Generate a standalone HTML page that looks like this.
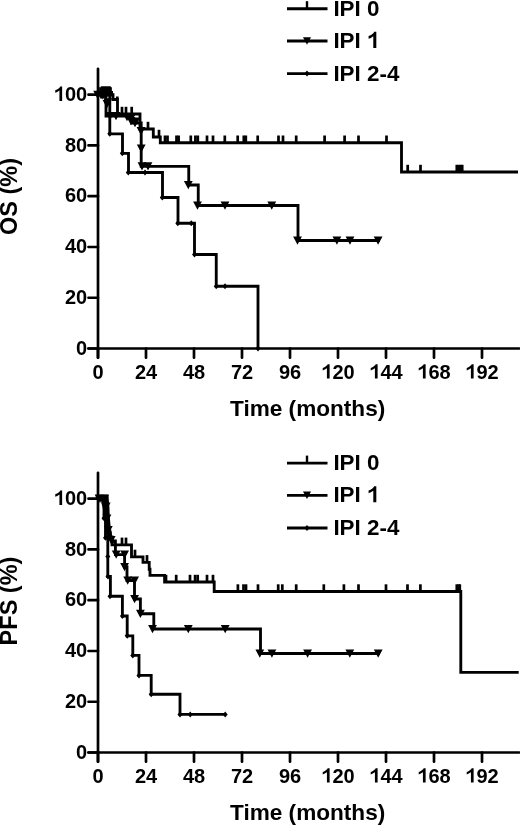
<!DOCTYPE html>
<html><head><meta charset="utf-8"><title>Kaplan-Meier curves by IPI</title>
<style>
html,body{margin:0;padding:0;background:#fff;width:520px;height:826px;overflow:hidden}
svg{display:block}
text{font-family:"Liberation Sans", sans-serif;font-weight:bold;fill:#000}
.tl{font-size:20px}
.tt{font-size:22.6px}
.lg{font-size:22.4px}
.yt{font-size:23.5px}
</style></head><body>
<svg width="520" height="826" viewBox="0 0 520 826">
<defs><filter id="bl" x="-5%" y="-5%" width="110%" height="110%"><feGaussianBlur stdDeviation="0.45"/></filter></defs>
<rect width="520" height="826" fill="#fff"/>
<g fill="#000" filter="url(#bl)">
<path d="M98,68.80V357.70M88.5,348.50H519.2" fill="none" stroke="#000" stroke-width="2.7" stroke-linecap="round"/>
<path d="M88.5,348.50H98M88.5,297.74H98M88.5,246.98H98M88.5,196.22H98M88.5,145.46H98M88.5,94.70H98M98,348.50V357.70M146,348.50V357.70M194,348.50V357.70M242,348.50V357.70M290,348.50V357.70M338,348.50V357.70M386,348.50V357.70M434,348.50V357.70M482,348.50V357.70" fill="none" stroke="#000" stroke-width="2.7" stroke-linecap="round"/>
<text x="76.08" y="354.70" class="tl">0</text>
<text x="64.96" y="303.94" class="tl">2</text><text x="76.08" y="303.94" class="tl">0</text>
<text x="64.96" y="253.18" class="tl">4</text><text x="76.08" y="253.18" class="tl">0</text>
<text x="64.96" y="202.42" class="tl">6</text><text x="76.08" y="202.42" class="tl">0</text>
<text x="64.96" y="151.66" class="tl">8</text><text x="76.08" y="151.66" class="tl">0</text>
<polygon points="62.14,100.90 62.14,86.58 60.20,86.58 59.68,87.54 58.64,88.50 57.04,89.60 55.24,90.30 55.24,92.80 57.24,92.00 59.44,90.60 59.44,100.90"/><text x="64.96" y="100.90" class="tl">0</text><text x="76.08" y="100.90" class="tl">0</text>
<text x="92.44" y="378.50" class="tl">0</text>
<text x="134.88" y="378.50" class="tl">2</text><text x="146.00" y="378.50" class="tl">4</text>
<text x="182.88" y="378.50" class="tl">4</text><text x="194.00" y="378.50" class="tl">8</text>
<text x="230.88" y="378.50" class="tl">7</text><text x="242.00" y="378.50" class="tl">2</text>
<text x="278.88" y="378.50" class="tl">9</text><text x="290.00" y="378.50" class="tl">6</text>
<polygon points="329.62,378.50 329.62,364.18 327.68,364.18 327.16,365.14 326.12,366.10 324.52,367.20 322.72,367.90 322.72,370.40 324.72,369.60 326.92,368.20 326.92,378.50"/><text x="332.44" y="378.50" class="tl">2</text><text x="343.56" y="378.50" class="tl">0</text>
<polygon points="377.62,378.50 377.62,364.18 375.68,364.18 375.16,365.14 374.12,366.10 372.52,367.20 370.72,367.90 370.72,370.40 372.72,369.60 374.92,368.20 374.92,378.50"/><text x="380.44" y="378.50" class="tl">4</text><text x="391.56" y="378.50" class="tl">4</text>
<polygon points="425.62,378.50 425.62,364.18 423.68,364.18 423.16,365.14 422.12,366.10 420.52,367.20 418.72,367.90 418.72,370.40 420.72,369.60 422.92,368.20 422.92,378.50"/><text x="428.44" y="378.50" class="tl">6</text><text x="439.56" y="378.50" class="tl">8</text>
<polygon points="473.62,378.50 473.62,364.18 471.68,364.18 471.16,365.14 470.12,366.10 468.52,367.20 466.72,367.90 466.72,370.40 468.72,369.60 470.92,368.20 470.92,378.50"/><text x="476.44" y="378.50" class="tl">9</text><text x="487.56" y="378.50" class="tl">2</text>
<text x="230" y="416.00" class="tt">Time (months)</text>
<path d="M287,8.70H327.5M287,41.00H327.5M287,73.60H327.5" fill="none" stroke="#000" stroke-width="2.85"/>
<rect x="305.8" y="1.20" width="2.4" height="7.5"/>
<path d="M303.00,37.20H311.00L307.00,44.70Z"/>
<path d="M307.00,70.60L309.50,73.60L307.00,76.60L304.50,73.60Z"/>
<text x="333.4" y="15.60" class="lg">IPI 0</text>
<text x="333.4" y="47.90" class="lg">IPI</text>
<polygon points="376.32,47.90 376.32,31.86 374.15,31.86 373.56,32.94 372.40,34.01 370.61,35.24 368.59,36.03 368.59,38.83 370.83,37.93 373.29,36.36 373.29,47.90"/>
<text x="333.4" y="80.50" class="lg">IPI 2-4</text>
<path d="M98,94.7H113V99.5H117.5V114H140V129H153.3V137H160.3V142.7H401.5V172H518" fill="none" stroke="#000" stroke-width="2.85" stroke-linejoin="miter" stroke-linecap="butt"/>
<rect x="99.15" y="87.20" width="2.7" height="7.50"/><rect x="101.15" y="87.20" width="2.7" height="7.50"/><rect x="103.15" y="87.20" width="2.7" height="7.50"/><rect x="105.15" y="87.20" width="2.7" height="7.50"/><rect x="107.15" y="87.20" width="2.7" height="7.50"/><rect x="109.15" y="87.20" width="2.7" height="7.50"/>
<path d="M100.8,86.2H110.8V91H113V96.2H99V91H100.8Z"/>
<path d="M93.20,90.70H102.00L97.60,98.90Z"/><path d="M97.90,91.30H106.70L102.30,99.50Z"/><path d="M103.40,98.30H112.20L107.80,106.50Z"/>
<path d="M127.10,113.50H135.90L131.50,121.70Z"/><path d="M131.10,117.50H139.90L135.50,125.70Z"/><path d="M126.60,117.00H135.40L131.00,125.20Z"/>
<rect x="115.95" y="96.50" width="2.7" height="3.00"/>
<rect x="120.65" y="106.80" width="2.7" height="7.20"/><rect x="124.65" y="106.80" width="2.7" height="7.20"/><rect x="130.35" y="106.80" width="2.7" height="7.20"/>
<rect x="146.65" y="121.80" width="2.7" height="7.20"/>
<rect x="157.65" y="129.80" width="2.7" height="7.20"/>
<rect x="163.65" y="135.50" width="2.7" height="7.20"/><rect x="166.15" y="135.50" width="2.7" height="7.20"/><rect x="175.15" y="135.50" width="2.7" height="7.20"/><rect x="177.25" y="135.50" width="2.7" height="7.20"/><rect x="189.45" y="135.50" width="2.7" height="7.20"/><rect x="194.05" y="135.50" width="2.7" height="7.20"/><rect x="196.45" y="135.50" width="2.7" height="7.20"/><rect x="205.65" y="135.50" width="2.7" height="7.20"/><rect x="211.65" y="135.50" width="2.7" height="7.20"/><rect x="223.45" y="135.50" width="2.7" height="7.20"/><rect x="236.35" y="135.50" width="2.7" height="7.20"/><rect x="242.45" y="135.50" width="2.7" height="7.20"/><rect x="244.45" y="135.50" width="2.7" height="7.20"/><rect x="256.35" y="135.50" width="2.7" height="7.20"/><rect x="277.15" y="135.50" width="2.7" height="7.20"/><rect x="281.65" y="135.50" width="2.7" height="7.20"/><rect x="294.85" y="135.50" width="2.7" height="7.20"/><rect x="323.25" y="135.50" width="2.7" height="7.20"/><rect x="343.25" y="135.50" width="2.7" height="7.20"/><rect x="357.15" y="135.50" width="2.7" height="7.20"/><rect x="385.15" y="135.50" width="2.7" height="7.20"/>
<rect x="406.35" y="164.80" width="2.7" height="7.20"/><rect x="419.15" y="164.80" width="2.7" height="7.20"/><rect x="455.45" y="164.80" width="2.7" height="7.20"/><rect x="457.45" y="164.80" width="2.7" height="7.20"/><rect x="459.45" y="164.80" width="2.7" height="7.20"/><rect x="460.85" y="164.80" width="2.7" height="7.20"/>
<path d="M98,94.7H106V116H131.5V123H141.2V166.3H188.75V185H198.25V205.5H298V240.5H380" fill="none" stroke="#000" stroke-width="2.85" stroke-linejoin="miter" stroke-linecap="butt"/>
<path d="M96.60,91.00H105.40L101.00,99.20Z"/><path d="M99.60,91.00H108.40L104.00,99.20Z"/><path d="M102.60,100.00H111.40L107.00,108.20Z"/><path d="M105.60,112.00H114.40L110.00,120.20Z"/><path d="M111.60,112.00H120.40L116.00,120.20Z"/><path d="M122.60,113.00H131.40L127.00,121.20Z"/><path d="M130.60,119.00H139.40L135.00,127.20Z"/><path d="M136.60,127.00H145.40L141.00,135.20Z"/><path d="M136.80,144.50H145.60L141.20,152.70Z"/><path d="M137.60,162.30H146.40L142.00,170.50Z"/><path d="M143.60,162.30H152.40L148.00,170.50Z"/><path d="M183.90,181.00H192.70L188.30,189.20Z"/><path d="M193.10,201.50H201.90L197.50,209.70Z"/><path d="M220.60,201.50H229.40L225.00,209.70Z"/><path d="M267.35,201.50H276.15L271.75,209.70Z"/><path d="M293.10,236.50H301.90L297.50,244.70Z"/><path d="M332.50,236.50H341.30L336.90,244.70Z"/><path d="M345.60,236.50H354.40L350.00,244.70Z"/><path d="M373.70,236.50H382.50L378.10,244.70Z"/>
<path d="M98,94.7H109.8V133.8H122.5V153.3H128.5V172.5H162.5V197.5H178V223.25H194.5V254.5H216.25V286.25H258V348.5" fill="none" stroke="#000" stroke-width="2.85" stroke-linejoin="miter" stroke-linecap="butt"/>
<path d="M109.80,130.80L112.30,133.80L109.80,136.80L107.30,133.80Z"/><path d="M122.30,150.30L124.80,153.30L122.30,156.30L119.80,153.30Z"/><path d="M128.30,169.50L130.80,172.50L128.30,175.50L125.80,172.50Z"/><path d="M145.00,169.50L147.50,172.50L145.00,175.50L142.50,172.50Z"/><path d="M162.30,194.50L164.80,197.50L162.30,200.50L159.80,197.50Z"/><path d="M177.80,220.25L180.30,223.25L177.80,226.25L175.30,223.25Z"/><path d="M191.25,220.25L193.75,223.25L191.25,226.25L188.75,223.25Z"/><path d="M194.50,251.50L197.00,254.50L194.50,257.50L192.00,254.50Z"/><path d="M216.25,283.25L218.75,286.25L216.25,289.25L213.75,286.25Z"/><path d="M225.00,283.25L227.50,286.25L225.00,289.25L222.50,286.25Z"/><path d="M258.00,345.50L260.50,348.50L258.00,351.50L255.50,348.50Z"/>
<path d="M98,472.80V761.70M88.5,752.50H519.2" fill="none" stroke="#000" stroke-width="2.7" stroke-linecap="round"/>
<path d="M88.5,752.50H98M88.5,701.74H98M88.5,650.98H98M88.5,600.22H98M88.5,549.46H98M88.5,498.70H98M98,752.50V761.70M146,752.50V761.70M194,752.50V761.70M242,752.50V761.70M290,752.50V761.70M338,752.50V761.70M386,752.50V761.70M434,752.50V761.70M482,752.50V761.70" fill="none" stroke="#000" stroke-width="2.7" stroke-linecap="round"/>
<text x="76.08" y="758.70" class="tl">0</text>
<text x="64.96" y="707.94" class="tl">2</text><text x="76.08" y="707.94" class="tl">0</text>
<text x="64.96" y="657.18" class="tl">4</text><text x="76.08" y="657.18" class="tl">0</text>
<text x="64.96" y="606.42" class="tl">6</text><text x="76.08" y="606.42" class="tl">0</text>
<text x="64.96" y="555.66" class="tl">8</text><text x="76.08" y="555.66" class="tl">0</text>
<polygon points="62.14,504.90 62.14,490.58 60.20,490.58 59.68,491.54 58.64,492.50 57.04,493.60 55.24,494.30 55.24,496.80 57.24,496.00 59.44,494.60 59.44,504.90"/><text x="64.96" y="504.90" class="tl">0</text><text x="76.08" y="504.90" class="tl">0</text>
<text x="92.44" y="782.50" class="tl">0</text>
<text x="134.88" y="782.50" class="tl">2</text><text x="146.00" y="782.50" class="tl">4</text>
<text x="182.88" y="782.50" class="tl">4</text><text x="194.00" y="782.50" class="tl">8</text>
<text x="230.88" y="782.50" class="tl">7</text><text x="242.00" y="782.50" class="tl">2</text>
<text x="278.88" y="782.50" class="tl">9</text><text x="290.00" y="782.50" class="tl">6</text>
<polygon points="329.62,782.50 329.62,768.18 327.68,768.18 327.16,769.14 326.12,770.10 324.52,771.20 322.72,771.90 322.72,774.40 324.72,773.60 326.92,772.20 326.92,782.50"/><text x="332.44" y="782.50" class="tl">2</text><text x="343.56" y="782.50" class="tl">0</text>
<polygon points="377.62,782.50 377.62,768.18 375.68,768.18 375.16,769.14 374.12,770.10 372.52,771.20 370.72,771.90 370.72,774.40 372.72,773.60 374.92,772.20 374.92,782.50"/><text x="380.44" y="782.50" class="tl">4</text><text x="391.56" y="782.50" class="tl">4</text>
<polygon points="425.62,782.50 425.62,768.18 423.68,768.18 423.16,769.14 422.12,770.10 420.52,771.20 418.72,771.90 418.72,774.40 420.72,773.60 422.92,772.20 422.92,782.50"/><text x="428.44" y="782.50" class="tl">6</text><text x="439.56" y="782.50" class="tl">8</text>
<polygon points="473.62,782.50 473.62,768.18 471.68,768.18 471.16,769.14 470.12,770.10 468.52,771.20 466.72,771.90 466.72,774.40 468.72,773.60 470.92,772.20 470.92,782.50"/><text x="476.44" y="782.50" class="tl">9</text><text x="487.56" y="782.50" class="tl">2</text>
<text x="230" y="820.00" class="tt">Time (months)</text>
<path d="M287,463.10H327.5M287,495.40H327.5M287,528.00H327.5" fill="none" stroke="#000" stroke-width="2.85"/>
<rect x="305.8" y="455.60" width="2.4" height="7.5"/>
<path d="M303.00,491.60H311.00L307.00,499.10Z"/>
<path d="M307.00,525.00L309.50,528.00L307.00,531.00L304.50,528.00Z"/>
<text x="333.4" y="470.00" class="lg">IPI 0</text>
<text x="333.4" y="502.30" class="lg">IPI</text>
<polygon points="376.32,502.30 376.32,486.26 374.15,486.26 373.56,487.34 372.40,488.41 370.61,489.64 368.59,490.43 368.59,493.23 370.83,492.33 373.29,490.76 373.29,502.30"/>
<text x="333.4" y="534.90" class="lg">IPI 2-4</text>
<path d="M98,498.7H103V503H104.5V508H105.5V513H106.5V518H107.3V523H108.1V528H109V533H110.3V538H112V544.8H131.5V556.9H143V562.3H149.2V569.2H150V575.4H164.6V582H214.2V591.5H460.8V672.3H518.7" fill="none" stroke="#000" stroke-width="2.85" stroke-linejoin="miter" stroke-linecap="butt"/>
<path d="M94.8,494.6H108.5L108.8,500L109.4,507L109.8,517L110.8,528.7L112.2,536.4L114,542L112.5,545L107,536.4L105.2,528.7L104,517L102.6,507L101.2,501L98,500.5L96,497.5Z"/>
<rect x="120.65" y="537.60" width="2.7" height="7.20"/><rect x="124.65" y="537.60" width="2.7" height="7.20"/>
<rect x="133.65" y="549.70" width="2.7" height="7.20"/>
<rect x="145.65" y="555.10" width="2.7" height="7.20"/>
<rect x="164.65" y="574.80" width="2.7" height="7.20"/><rect x="174.85" y="574.80" width="2.7" height="7.20"/><rect x="188.65" y="574.80" width="2.7" height="7.20"/><rect x="193.75" y="574.80" width="2.7" height="7.20"/><rect x="196.35" y="574.80" width="2.7" height="7.20"/><rect x="205.65" y="574.80" width="2.7" height="7.20"/><rect x="211.65" y="574.80" width="2.7" height="7.20"/>
<rect x="236.55" y="584.30" width="2.7" height="7.20"/><rect x="242.15" y="584.30" width="2.7" height="7.20"/><rect x="244.65" y="584.30" width="2.7" height="7.20"/><rect x="256.65" y="584.30" width="2.7" height="7.20"/><rect x="276.85" y="584.30" width="2.7" height="7.20"/><rect x="280.95" y="584.30" width="2.7" height="7.20"/><rect x="294.85" y="584.30" width="2.7" height="7.20"/><rect x="322.45" y="584.30" width="2.7" height="7.20"/><rect x="342.55" y="584.30" width="2.7" height="7.20"/><rect x="357.15" y="584.30" width="2.7" height="7.20"/><rect x="384.65" y="584.30" width="2.7" height="7.20"/><rect x="406.15" y="584.30" width="2.7" height="7.20"/><rect x="419.05" y="584.30" width="2.7" height="7.20"/><rect x="455.45" y="584.30" width="2.7" height="7.20"/><rect x="457.25" y="584.30" width="2.7" height="7.20"/><rect x="458.45" y="584.30" width="2.7" height="7.20"/>
<path d="M98,498.7H104V505H105.3V511H106.3V517H107.2V524H108.2V531H109.8V537H112V541H115.4V554.6H124.6V567H127V580.5H134.5V599H140.4V613.7H153.8V629H260.5V653.5H380" fill="none" stroke="#000" stroke-width="2.85" stroke-linejoin="miter" stroke-linecap="butt"/>
<path d="M95.60,494.70H104.40L100.00,502.90Z"/><path d="M100.10,494.70H108.90L104.50,502.90Z"/><path d="M101.80,502.50H110.60L106.20,510.70Z"/><path d="M102.60,514.50H111.40L107.00,522.70Z"/><path d="M103.90,526.00H112.70L108.30,534.20Z"/><path d="M106.80,536.00H115.60L111.20,544.20Z"/><path d="M111.80,550.60H120.60L116.20,558.80Z"/><path d="M120.20,550.60H129.00L124.60,558.80Z"/><path d="M120.20,563.00H129.00L124.60,571.20Z"/><path d="M123.30,576.50H132.10L127.70,584.70Z"/><path d="M130.20,576.50H139.00L134.60,584.70Z"/><path d="M130.20,595.00H139.00L134.60,603.20Z"/><path d="M136.00,609.70H144.80L140.40,617.90Z"/><path d="M148.10,625.00H156.90L152.50,633.20Z"/><path d="M183.90,625.00H192.70L188.30,633.20Z"/><path d="M220.80,625.00H229.60L225.20,633.20Z"/><path d="M255.40,649.50H264.20L259.80,657.70Z"/><path d="M267.50,649.50H276.30L271.90,657.70Z"/><path d="M303.20,649.50H312.00L307.60,657.70Z"/><path d="M345.40,649.50H354.20L349.80,657.70Z"/><path d="M373.80,649.50H382.60L378.20,657.70Z"/>
<path d="M98,498.7H104V518.2H105.5V537.8H107.8V576.5H110.4V596.2H122.4V616H127.2V635.8H132.8V655.4H139V675.4H151.2V694.2H180V714.4H225.2" fill="none" stroke="#000" stroke-width="2.85" stroke-linejoin="miter" stroke-linecap="butt"/>
<path d="M104.00,515.20L106.50,518.20L104.00,521.20L101.50,518.20Z"/><path d="M105.50,534.80L108.00,537.80L105.50,540.80L103.00,537.80Z"/><path d="M107.80,553.50L110.30,556.50L107.80,559.50L105.30,556.50Z"/><path d="M108.00,573.50L110.50,576.50L108.00,579.50L105.50,576.50Z"/><path d="M110.00,593.20L112.50,596.20L110.00,599.20L107.50,596.20Z"/><path d="M122.40,613.00L124.90,616.00L122.40,619.00L119.90,616.00Z"/><path d="M127.20,632.80L129.70,635.80L127.20,638.80L124.70,635.80Z"/><path d="M132.80,652.40L135.30,655.40L132.80,658.40L130.30,655.40Z"/><path d="M139.00,672.40L141.50,675.40L139.00,678.40L136.50,675.40Z"/><path d="M151.20,691.20L153.70,694.20L151.20,697.20L148.70,694.20Z"/><path d="M180.00,711.40L182.50,714.40L180.00,717.40L177.50,714.40Z"/><path d="M190.20,711.40L192.70,714.40L190.20,717.40L187.70,714.40Z"/><path d="M225.20,711.40L227.70,714.40L225.20,717.40L222.70,714.40Z"/>
<text transform="translate(17.3,196.5) rotate(-90)" text-anchor="middle" class="yt">OS (%)</text>
<text transform="translate(17.3,601) rotate(-90)" text-anchor="middle" class="yt">PFS (%)</text>
</g>
</svg>
</body></html>
